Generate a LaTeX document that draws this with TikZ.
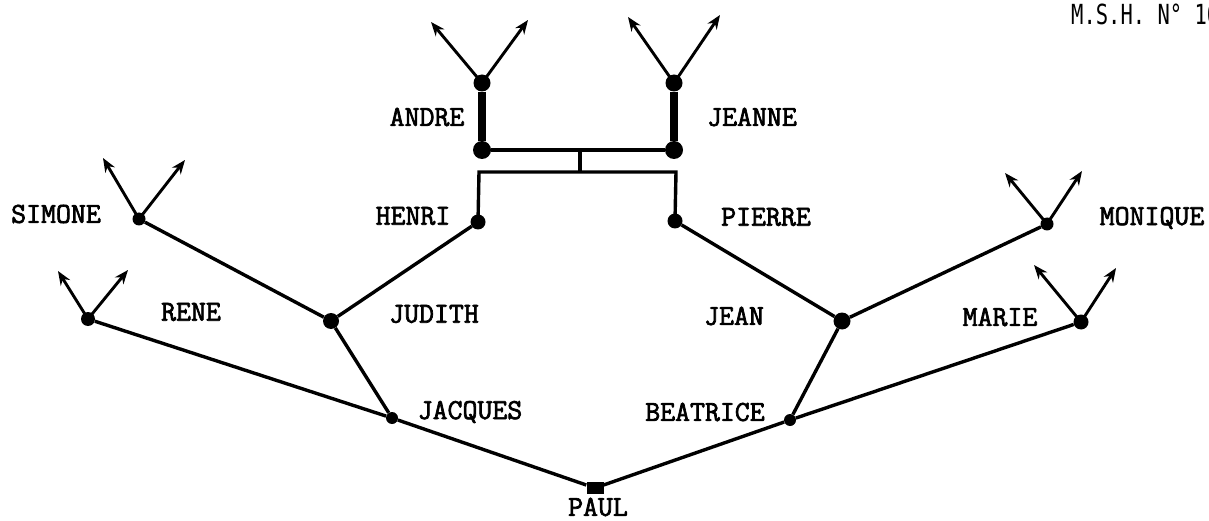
\documentclass[tikz,border=0pt]{standalone}
\usepackage{fontspec}
\newfontfamily\namefont[FakeBold=2.4]{Latin Modern Mono}
\newfontfamily\refont{DejaVu Sans Mono}
\usetikzlibrary{arrows.meta}
\tikzset{
  dot/.style={circle,fill=black,inner sep=0pt,minimum size=#1},
  dot/.default=14pt,
  lbl/.style={font=\namefont\fontsize{29}{29}\selectfont,inner sep=0pt},
  link/.style={line width=3.4pt},
  thick link/.style={line width=7.5pt},
  branch/.style={line width=2.9pt,-{Stealth[length=14pt,width=11pt]}}
}
\begin{document}
\begin{tikzpicture}[x=1pt,y=-1pt]
\useasboundingbox (0,0) rectangle (1209,521);
% persons
\node[fill=black,minimum width=17pt,minimum height=12pt,inner sep=0pt] (paul) at (595,488) {};
\node[dot=12pt] (jacques) at (392,418) {};
\node[dot=12pt] (beatrice) at (790,420) {};
\node[dot=14pt] (rene) at (88,319) {};
\node[dot=16pt] (judith) at (331,321) {};
\node[dot=13pt] (simone) at (139,219) {};
\node[dot=15pt] (henri) at (478,222) {};
\node[dot=17pt] (andreT) at (482,83) {};
\node[dot=18pt] (andreB) at (482,150) {};
\node[dot=17pt] (jeanneT) at (674,83) {};
\node[dot=18pt] (jeanneB) at (674,150) {};
\node[dot=15pt] (pierre) at (675,221) {};
\node[dot=17pt] (jean) at (842,321) {};
\node[dot=13pt] (monique) at (1047,224) {};
\node[dot=15pt] (marie) at (1081,322) {};
% labels
\node[lbl] (lpaul) at (598,507) {PAUL};
\node[lbl] (ljacques) at (470,412) {JACQUES};
\node[lbl] (lbeatrice) at (705,412) {BEATRICE};
\node[lbl] (lrene) at (191,312) {RENE};
\node[lbl] (ljudith) at (434,314) {JUDITH};
\node[lbl] (lsimone) at (56,214) {SIMONE};
\node[lbl] (lhenri) at (413,216) {HENRI};
\node[lbl] (landre) at (427,117) {ANDRE};
\node[lbl] (ljeanne) at (752,117) {JEANNE};
\node[lbl] (lpierre) at (766,217) {PIERRE};
\node[lbl] (ljean) at (734,316) {JEAN};
\node[lbl] (lmonique) at (1152,218) {MONIQUE};
\node[lbl] (lmarie) at (1000,317) {MARIE};
\node[anchor=west,inner sep=0pt,font=\refont\fontsize{20.5}{20.5}\selectfont] (ref) at (1071,14) {\scalebox{1}[1.35]{M.S.H. N° 10}};
% links
\draw[link] (paul) -- (jacques) -- (rene);
\draw[link] (jacques) -- (judith) -- (simone);
\draw[link] (judith) -- (henri);
\draw[link] (paul) -- (beatrice) -- (marie);
\draw[link] (beatrice) -- (jean) -- (monique);
\draw[link] (jean) -- (pierre);
\draw[thick link] (andreT) -- (andreB);
\draw[thick link] (jeanneT) -- (jeanneB);
\coordinate (mar) at (580,150);
\coordinate (sib) at (580,172);
\coordinate (hc) at (479,172);
\coordinate (pc) at (676,172);
\draw[link] (andreB) -- (jeanneB);
\draw[link] (mar) -- (sib);
\draw[link] (henri.center) -- (hc) -- (pc) -- (pierre.center);
% unknown ancestors
\coordinate (a1) at (431,22); \coordinate (a2) at (528,20);
\coordinate (j1) at (628,17); \coordinate (j2) at (720,15);
\coordinate (s1) at (103,158); \coordinate (s2) at (185,160);
\coordinate (r1) at (58,271); \coordinate (r2) at (128,270);
\coordinate (m1) at (1005,173); \coordinate (m2) at (1082,171);
\coordinate (q1) at (1034,265); \coordinate (q2) at (1116,268);
\foreach \n/\p in {andreT/a1,andreT/a2,jeanneT/j1,jeanneT/j2,simone/s1,simone/s2,rene/r1,rene/r2,monique/m1,monique/m2,marie/q1,marie/q2}
  \draw[branch] (\n.center) -- (\p);
\end{tikzpicture}
\end{document}
